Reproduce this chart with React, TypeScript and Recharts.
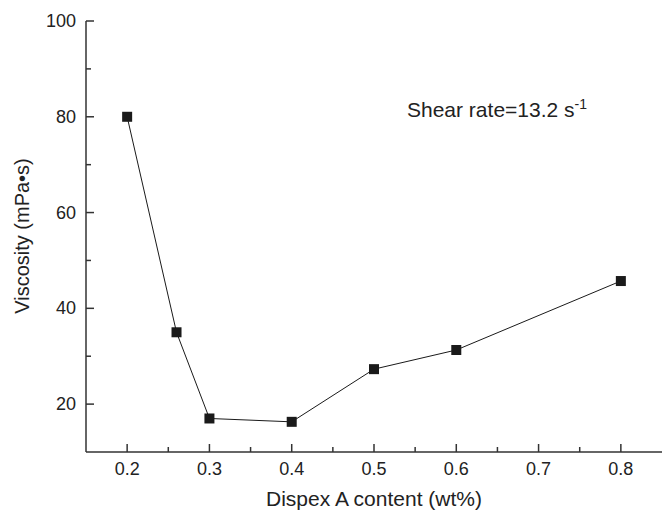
import { Line, LineChart, XAxis, YAxis } from "recharts";

const contents = [0.2, 0.26, 0.3, 0.4, 0.5, 0.6, 0.8];
const viscosity = [80, 35, 17, 16.3, 27.3, 31.3, 45.7];
const xTicks = [0.2, 0.25, 0.3, 0.35, 0.4, 0.45, 0.5, 0.55, 0.6, 0.65, 0.7, 0.75, 0.8];
const xLabels = [0.2, 0.3, 0.4, 0.5, 0.6, 0.7, 0.8];
const yTicks = [20, 30, 40, 50, 60, 70, 80, 90, 100];
const yLabels = [20, 40, 60, 80, 100];

const data = contents.map((c, i) => ({ content: c, viscosity: viscosity[i] }));

const AXIS = "#333333";
const FONT = "'Liberation Sans', Arial, sans-serif";

const isMajor = (v: number, list: number[]) =>
  list.some((m) => Math.abs(m - v) < 1e-6);

function BottomTick(props: any) {
  const { x, y, payload } = props;
  const major = isMajor(payload.value, xLabels);
  return (
    <g>
      <line x1={x} x2={x} y1={y} y2={y - (major ? 8 : 5)} stroke={AXIS} strokeWidth={1.5} />
      {major ? (
        <text x={x} y={y + 23} textAnchor="middle" fill="#222" fontSize={18} fontFamily={FONT}>
          {payload.value.toFixed(1)}
        </text>
      ) : null}
    </g>
  );
}

function TopTick(props: any) {
  const { x, y, payload } = props;
  const major = isMajor(payload.value, xLabels);
  return <line x1={x} x2={x} y1={y} y2={y + (major ? 4 : 2)} stroke={AXIS} strokeWidth={1} />;
}

function LeftTick(props: any) {
  const { x, y, payload } = props;
  const major = isMajor(payload.value, yLabels);
  return (
    <g>
      <line x1={x} x2={x + (major ? 8 : 5)} y1={y} y2={y} stroke={AXIS} strokeWidth={1.5} />
      {major ? (
        <text x={x - 10} y={y + 6} textAnchor="end" fill="#222" fontSize={18} fontFamily={FONT}>
          {payload.value}
        </text>
      ) : null}
    </g>
  );
}

function Square(props: any) {
  const { cx, cy, index } = props;
  return <rect key={index} x={cx - 5} y={cy - 5} width={10} height={10} fill="#1a1a1a" />;
}

export default function App() {
  return (
    <div style={{ position: "absolute", left: 0, top: 0, width: 662, height: 510, background: "#fff" }}>
      <LineChart width={662} height={510} data={data} margin={{ top: 21, right: 0, bottom: 0, left: 0 }}>
        <XAxis
          xAxisId="bottom"
          dataKey="content"
          type="number"
          domain={[0.15, 0.85]}
          ticks={xTicks}
          interval={0}
          height={58}
          tickSize={0}
          tickMargin={0}
          tick={<BottomTick />}
          axisLine={{ stroke: AXIS, strokeWidth: 1.5 }}
          tickLine={false}
        />
        <XAxis
          xAxisId="top"
          orientation="top"
          dataKey="content"
          type="number"
          domain={[0.15, 0.85]}
          ticks={xTicks}
          interval={0}
          height={0}
          tickSize={0}
          tickMargin={0}
          tick={<TopTick />}
          axisLine={{ stroke: AXIS, strokeWidth: 1.5 }}
          tickLine={false}
        />
        <YAxis
          type="number"
          domain={[10, 100]}
          ticks={yTicks}
          interval={0}
          width={86}
          tickSize={0}
          tickMargin={0}
          tick={<LeftTick />}
          axisLine={{ stroke: AXIS, strokeWidth: 1.5 }}
          tickLine={false}
        />
        <Line
          xAxisId="bottom"
          dataKey="viscosity"
          type="linear"
          stroke="#1a1a1a"
          strokeWidth={1}
          dot={<Square />}
          activeDot={false}
          isAnimationActive={false}
        />
      </LineChart>
      <div
        style={{
          position: "absolute",
          left: 22,
          top: 236,
          transform: "translate(-50%, -50%) rotate(-90deg)",
          whiteSpace: "nowrap",
          fontFamily: FONT,
          fontSize: 20,
          color: "#222",
        }}
      >
        Viscosity (mPa•s)
      </div>
      <div
        style={{
          position: "absolute",
          left: 374,
          top: 499,
          transform: "translate(-50%, -50%)",
          whiteSpace: "nowrap",
          fontFamily: FONT,
          fontSize: 21,
          color: "#222",
        }}
      >
        Dispex A content (wt%)
      </div>
      <div
        style={{
          position: "absolute",
          left: 407,
          top: 98,
          whiteSpace: "nowrap",
          fontFamily: FONT,
          fontSize: 21,
          color: "#222",
          lineHeight: "24px",
        }}
      >
        Shear rate=13.2 s<sup style={{ fontSize: 14, verticalAlign: "8px", lineHeight: 0 }}>-1</sup>
      </div>
    </div>
  );
}
